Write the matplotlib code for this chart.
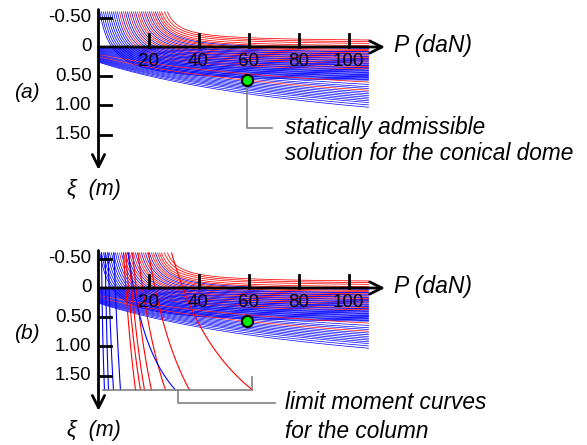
import numpy as np
import matplotlib
matplotlib.use("Agg")
import matplotlib.pyplot as plt

plt.rcParams['font.family'] = ['Liberation Sans', 'DejaVu Sans']

# upper family: load where each curve leaves the top (xi = -0.6) and its level at the far right
upper_p_top = [0.5, 1.2, 2.0, 2.8, 3.6, 4.4, 5.2, 6.0, 6.8, 7.6, 8.4, 9.2, 10.0, 10.8, 11.6, 12.4, 13.2,
               14.0, 14.8, 15.6, 16.4, 17.2, 18.0, 18.8, 19.6, 20.4, 21.2, 22.0, 22.8, 23.6, 24.4, 25.2, 26.4, 27.6]
upper_xi_end = [0.62, 0.60, 0.58, 0.56, 0.54, 0.52, 0.50, 0.48, 0.46, 0.44, 0.42, 0.40, 0.38, 0.36, 0.34, 0.32, 0.30,
                0.28, 0.26, 0.24, 0.22, 0.20, 0.18, 0.16, 0.14, 0.12, 0.10, 0.08, 0.06, 0.04, 0.01, -0.03, -0.06, -0.09]
upper_colors = "bbbbbbbbbbrbrbbrbrbrrbrbrbrrbrrrrr"

# lower family: level at P = 0 and at P = 108
lower_xi_start = [0.00, 0.01, 0.02, 0.03, 0.04, 0.05, 0.06, 0.07, 0.08, 0.09, 0.10, 0.11, 0.12, 0.13, 0.14,
                  0.15, 0.16, 0.17, 0.18, 0.19, 0.20, 0.21, 0.22, 0.23, 0.24, 0.25, 0.26]
lower_xi_end = [0.08, 0.12, 0.16, 0.20, 0.24, 0.28, 0.32, 0.36, 0.40, 0.44, 0.48, 0.52, 0.56, 0.60, 0.64,
                0.68, 0.71, 0.74, 0.77, 0.80, 0.83, 0.86, 0.89, 0.92, 0.95, 0.99, 1.03]
lower_colors = "bbbbbbbbbbbbbrbbbrbbbbbbbbb"

# limit moment curves of the column (panel b): load at xi = 0.6 and at xi = 1.74
limit_p_mid = [1.6, 3.2, 4.7, 7.3, 12.0, 13.3, 14.7, 16.7, 20.0, 17.3, 26.0, 40.0]
limit_p_end = [2.4, 4.0, 6.0, 8.8, 14.8, 16.8, 18.4, 21.2, 26.8, 30.8, 36.4, 61.6]
limit_colors = "bbbbrrrrrbrr"

p_ticks = [20, 40, 60, 80, 100]
xi_ticks = [-0.5, 0.5, 1.0, 1.5]
xi_labels = ["-0.50", "0.50", "1.00", "1.50"]
solution = (59.3, 0.57)

P_MAX = 108
XI_TOP = -0.6
XI_BOT = 1.744
CMAP = {"b": "#0000ff", "r": "#ff0000"}


def draw_families(ax):
    d = 5.0
    for p0, b, c in zip(upper_p_top, upper_xi_end, upper_colors):
        s = p0 - d
        k = (b - XI_TOP) * d
        p = np.linspace(p0, P_MAX, 300)
        ax.plot(p, b - k / (p - s), color=CMAP[c], lw=0.55, zorder=1)
    cc = 120.0
    for x0, x1, c in zip(lower_xi_start, lower_xi_end, lower_colors):
        k = (x1 - x0) / (1 / cc - 1 / (P_MAX + cc))
        b = x0 + k / cc
        p = np.linspace(0, P_MAX, 200)
        ax.plot(p, b - k / (p + cc), color=CMAP[c], lw=0.5, zorder=1)


def draw_limits(ax):
    for pm, pe, c in zip(limit_p_mid, limit_p_end, limit_colors):
        k = (XI_BOT - 0.6) / (1 / pm - 1 / pe)
        cst = XI_BOT + k / pe
        p_start = k / (cst - XI_TOP)
        p = np.linspace(p_start, pe, 300)
        ax.plot(p, cst - k / p, color=CMAP[c], lw=0.8, zorder=1.5)


def draw_axes(ax, tag):
    arrow = dict(arrowstyle="->", lw=2, color="black", mutation_scale=22, shrinkA=0, shrinkB=0)
    ax.annotate("", xy=(0, 2.10), xytext=(0, -0.64), arrowprops=arrow, zorder=4)
    ax.annotate("", xy=(114.6, 0), xytext=(0, 0), arrowprops=arrow, zorder=4)
    for t in p_ticks:
        ax.plot([t, t], [0, -0.22], color="black", lw=2, zorder=4)
        ax.text(t, 0.24, str(t), ha="center", va="center", fontsize=13.5, zorder=5)
    for t, lab in zip(xi_ticks, xi_labels):
        ax.plot([0, 4.8], [t, t], color="black", lw=2, zorder=4)
        ax.text(-2.8, t, lab, ha="right", va="center", fontsize=13.5)
    ax.text(-2.8, 0, "0", ha="right", va="center", fontsize=13.5)
    ax.text(118.2, -0.03, "P (daN)", ha="left", va="center", fontsize=16.5, style="italic")
    ax.text(-28.6, 0.78, tag, ha="center", va="center", fontsize=15, style="italic")
    ax.text(-12.6, 2.44, "ξ  (m)", ha="left", va="center", fontsize=15.5, style="italic")
    ax.plot(*solution, "o", ms=8, mfc="#00ee00", mec="black", mew=1.5, zorder=6)


fig = plt.figure(figsize=(5.87, 4.45), dpi=100)
ax_a = fig.add_axes([0, 223 / 445, 1, 222 / 445])
ax_b = fig.add_axes([0, 0, 1, 223 / 445])
ax_a.set_xlim(-39.4, 195.4)
ax_b.set_xlim(-39.4, 195.4)
ax_a.set_ylim(2.9915, -0.8034)
ax_b.set_ylim(2.684, -1.128)

# panel (a)
draw_families(ax_a)
draw_axes(ax_a, "(a)")
ax_a.plot([59.3, 59.3, 69.4], [0.62, 1.385, 1.385], color="#808080", lw=1.2, zorder=3)
ax_a.text(74.6, 1.37, "statically admissible", ha="left", va="center", fontsize=16.3, style="italic")
ax_a.text(74.6, 1.82, "solution for the conical dome", ha="left", va="center", fontsize=16.3, style="italic")

# panel (b)
draw_families(ax_b)
draw_limits(ax_b)
draw_axes(ax_b, "(b)")
ax_b.plot([1.8, 61.4, 61.4], [XI_BOT, XI_BOT, 1.53], color="#808080", lw=1.2, zorder=3)
ax_b.plot([31.8, 31.8, 70.6], [XI_BOT, 1.966, 1.966], color="#808080", lw=1.2, zorder=3)
ax_b.text(74.6, 1.966, "limit moment curves", ha="left", va="center", fontsize=16.3, style="italic")
ax_b.text(74.6, 2.46, "for the column", ha="left", va="center", fontsize=16.3, style="italic")

for ax in (ax_a, ax_b):
    ax.axis("off")

fig.savefig("out.png", dpi=100)
